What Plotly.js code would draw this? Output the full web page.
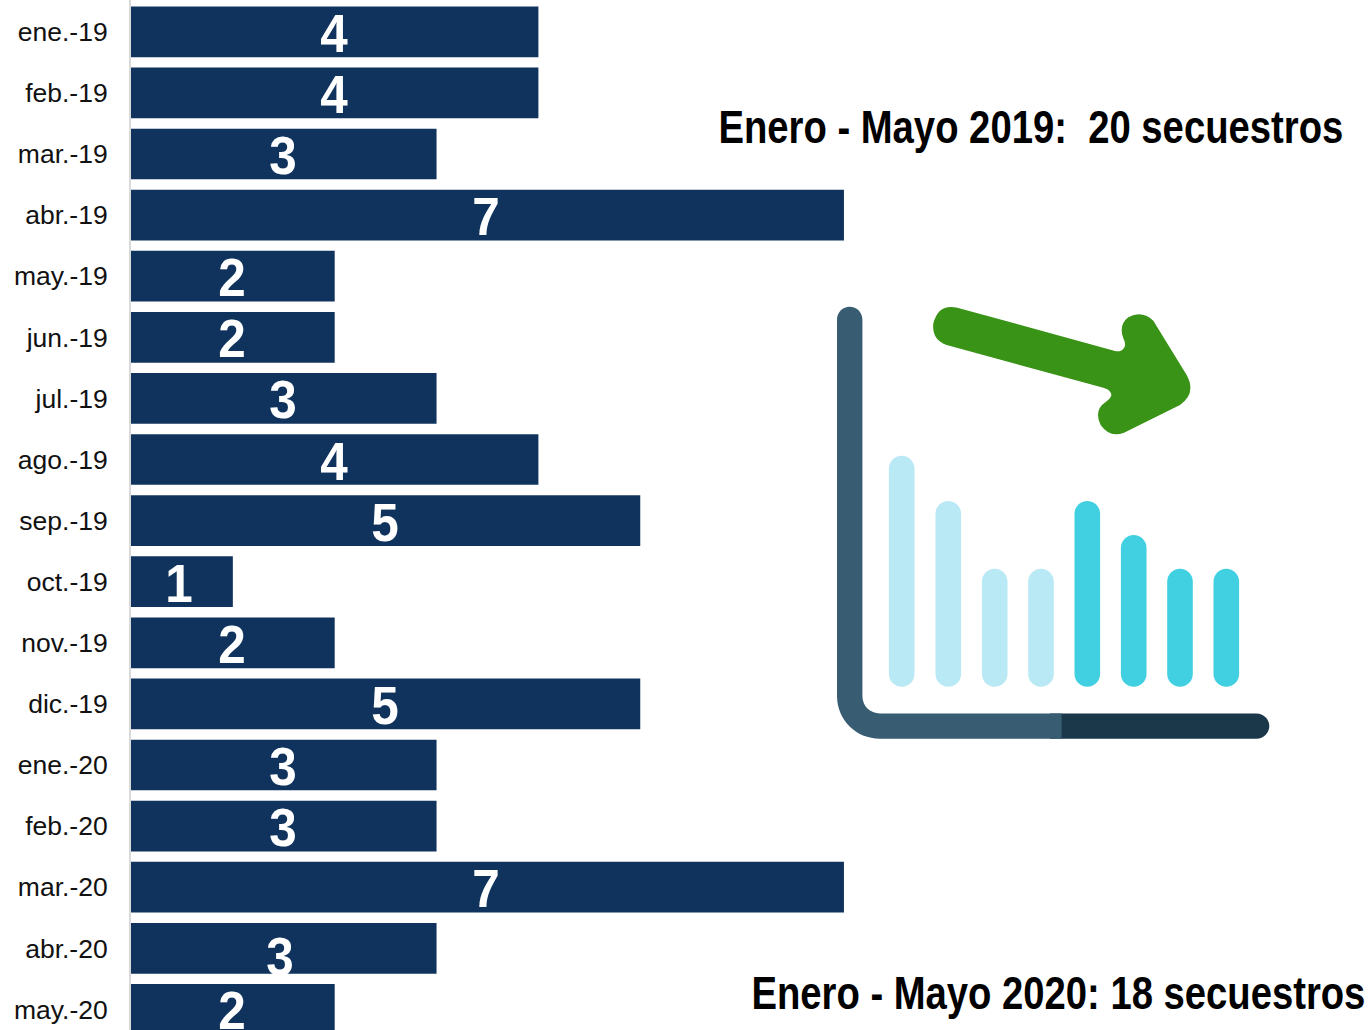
<!DOCTYPE html>
<html><head><meta charset="utf-8">
<script src="https://cdn.plot.ly/plotly-3.0.1.min.js"></script>
<style>html,body{margin:0;padding:0;background:#fff;overflow:hidden}#c{width:1368px;height:1030px}</style>
</head><body><div id="c"></div>
<script>
const months = ['ene.-19','feb.-19','mar.-19','abr.-19','may.-19','jun.-19','jul.-19','ago.-19','sep.-19','oct.-19','nov.-19','dic.-19','ene.-20','feb.-20','mar.-20','abr.-20','may.-20'];
const secuestros = [4,4,3,7,2,2,3,4,5,1,2,5,3,3,7,3,2];
const labelShiftX = [-1,-1,-1,-1,-1,-1,-1,-1,-1,-3,-1,-1,-1,-1,-1,-4,-1];
const labelShiftY = [-1,-1,-1,-1,-1,-1,-1,-1,-1,-1,-1,-1,-1,-1,-1,-8,-1];
const note2019 = 'Enero - Mayo 2019:  20 secuestros';
const note2020 = 'Enero - Mayo 2020: 18 secuestros';
const NAVY='#10335D', SANS='"Liberation Sans",Arial,sans-serif';

// decorative pictogram (pixel geometry, converted to paper space)
const L=131,W=1368-131,H=1030;
const px=x=>((x-L)/W).toFixed(5), py=y=>(1-y/H).toFixed(5);
const zx=x=>820+x/3, zy=y=>290+y/3;
function rounded(x,top,bottom,w,color){
  const r=w/2,l=x-r,R=x+r;
  return {type:'path',xref:'paper',yref:'paper',fillcolor:color,line:{width:0},layer:'above',
    path:`M${px(l)},${py(top+r)} C${px(l)},${py(top+r*0.45)} ${px(x-r*0.55)},${py(top)} ${px(x)},${py(top)} C${px(x+r*0.55)},${py(top)} ${px(R)},${py(top+r*0.45)} ${px(R)},${py(top+r)} L${px(R)},${py(bottom-r)} C${px(R)},${py(bottom-r*0.45)} ${px(x+r*0.55)},${py(bottom)} ${px(x)},${py(bottom)} C${px(x-r*0.55)},${py(bottom)} ${px(l)},${py(bottom-r*0.45)} ${px(l)},${py(bottom-r)} Z`};
}
const iconX=[901.7,948.3,994.7,1041,1087.3,1133.7,1180,1226.3];
const iconTop=[455.7,501,568.7,568.7,501,535,568.7,568.7];
const iconCol=['#B8E9F5','#B8E9F5','#B8E9F5','#B8E9F5','#41D0E2','#41D0E2','#41D0E2','#41D0E2'];
const shapes=iconX.map((x,i)=>rounded(x,iconTop[i],686.7,25.6,iconCol[i]));
shapes.push({type:'path',xref:'paper',yref:'paper',fillcolor:'#1A3849',line:{width:0},layer:'above',
  path:`M${px(1050)},${py(713.4)} L${px(1256.5)},${py(713.4)} C${px(1263.5)},${py(713.4)} ${px(1269.3)},${py(719)} ${px(1269.3)},${py(726)} C${px(1269.3)},${py(733)} ${px(1263.5)},${py(738.7)} ${px(1256.5)},${py(738.7)} L${px(1050)},${py(738.7)} Z`});
shapes.push({type:'path',xref:'paper',yref:'paper',fillcolor:'#385C72',line:{width:0},layer:'above',
  path:`M${px(837)},${py(319.5)} C${px(837)},${py(312)} ${px(843)},${py(306.7)} ${px(849.7)},${py(306.7)} C${px(856.5)},${py(306.7)} ${px(862.4)},${py(312)} ${px(862.4)},${py(319.5)} L${px(862.4)},${py(696)} C${px(862.4)},${py(706)} ${px(870)},${py(713.4)} ${px(880)},${py(713.4)} L${px(1061.7)},${py(713.4)} L${px(1061.7)},${py(738.7)} L${px(880)},${py(738.7)} C${px(856)},${py(738.7)} ${px(837)},${py(720)} ${px(837)},${py(696)} Z`});
const arrow=[['M',412,53],['L',885,183],['Q',905,188,914,170],['Q',918,160,910,145],['Q',895,105,925,82],['Q',965,60,1000,92],['L',1100,255],['Q',1130,310,1080,345],['L',912,428],['Q',870,445,842,405],['Q',820,360,858,335],['Q',880,320,872,308],['Q',868,298,850,293],['L',380,165],['Q',335,150,340,100],['Q',355,40,412,53]];
shapes.push({type:'path',xref:'paper',yref:'paper',fillcolor:'#389316',line:{width:0},layer:'above',
  path:arrow.map(s=>{let o=s[0];for(let i=1;i<s.length;i+=2){o+=(i>1?' ':'')+px(zx(s[i]))+','+py(zy(s[i+1]));}return o;}).join(' ')+' Z'});

const annotations=months.map((m,i)=>({x:secuestros[i]/2,y:m,xref:'x',yref:'y',text:String(secuestros[i]),showarrow:false,
  xanchor:'center',yanchor:'middle',xshift:labelShiftX[i],yshift:labelShiftY[i],
  font:{family:SANS,size:54,color:'#fff',weight:700}}));
annotations.push({xref:'paper',yref:'paper',x:px(1031),y:py(127),xanchor:'center',yanchor:'middle',text:note2019,showarrow:false,font:{family:SANS,size:46,color:'#000',weight:700}});
annotations.push({xref:'paper',yref:'paper',x:px(1058.5),y:py(993),xanchor:'center',yanchor:'middle',text:note2020,showarrow:false,font:{family:SANS,size:46,color:'#000',weight:700}});

Plotly.newPlot('c',[{type:'bar',orientation:'h',x:secuestros,y:months,marker:{color:NAVY,line:{width:0}},width:0.83,hoverinfo:'x+y'}],{
  width:1368,height:1030,margin:{l:L,r:0,t:0,b:0},paper_bgcolor:'#fff',plot_bgcolor:'#fff',showlegend:false,
  xaxis:{range:[0,W/101.85],visible:false,fixedrange:true},
  yaxis:{type:'category',categoryorder:'array',categoryarray:months,range:[(1030-31.8)/61.1,-31.8/61.1],
    showgrid:false,zeroline:false,showline:true,linecolor:'#D9D9D9',linewidth:2,ticks:'',ticklabelstandoff:16,
    tickfont:{family:SANS,size:26.5,color:'#111'},automargin:false,fixedrange:true},
  shapes,annotations
},{displayModeBar:false,responsive:false}).then(gd=>{
  // the reference lettering is condensed: squeeze the real text horizontally about its centre
  gd.querySelectorAll('.annotation-text').forEach(t=>{
    const s=t.textContent;
    let len=null;
    if(s===note2019) len=625; else if(s===note2020) len=614; else if(s.length===1) len=27.5;
    if(!len) return;
    const full=t.getComputedTextLength(), sx=len/full, cx=+t.getAttribute('x')||0;
    t.setAttribute('transform',`translate(${cx},0) scale(${sx},1) translate(${-cx},0)`);
    const g=t.closest('.annotation');
    if(g) g.querySelectorAll('rect').forEach(r=>{
      const w=+r.getAttribute('width'),x=+r.getAttribute('x')||0;
      if(w>len){r.setAttribute('x',x+(w-len)/2);r.setAttribute('width',len);}
    });
  });
});
</script></body></html>
